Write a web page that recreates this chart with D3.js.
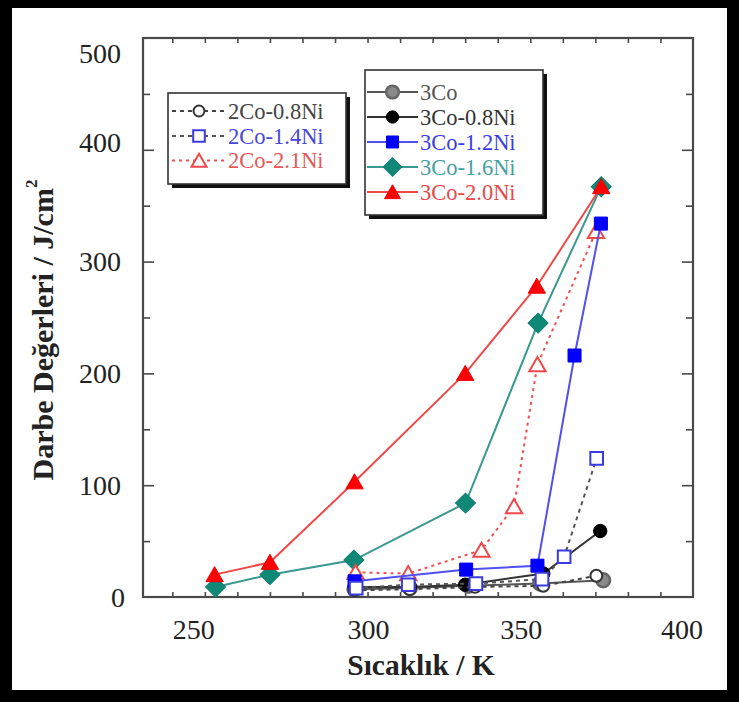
<!DOCTYPE html>
<html><head><meta charset="utf-8">
<script src="https://cdn.jsdelivr.net/npm/d3@7/dist/d3.min.js"></script>
<style>html,body{margin:0;padding:0;background:#000;}svg{display:block;}</style>
</head><body>
<svg id="chart" width="739" height="702"></svg>
<script>
// ---------- data ----------
const xTickLabels = [250, 300, 350, 400];
const yTickLabels = [0, 100, 200, 300, 400, 500];

const T_2Co08 = [300, 317, 337, 358, 374.3];
const E_2Co08 = [6, 7, 9, 10, 19];
const T_2Co14 = [300.5, 316.5, 337.3, 357.6, 364.4, 374.4];
const E_2Co14 = [8, 11, 12, 16, 36, 124];
const T_2Co21 = [300.3, 316.5, 339, 349, 356.2, 374.2];
const E_2Co21 = [22, 21, 42, 81, 208, 327];
const T_3Co   = [300, 317, 335, 357, 376.4];
const E_3Co   = [7, 8, 10, 12, 15];
const T_3Co08 = [300, 317, 334, 358, 375.5];
const E_3Co08 = [9, 9, 11, 21, 59];
const T_3Co12 = [300, 334.3, 356.2, 367.6, 375.7];
const E_3Co12 = [14, 24.5, 28, 216, 334];
const T_3Co16 = [257.3, 274, 299.8, 334.1, 356.4, 375.8];
const E_3Co16 = [9, 20, 33, 84, 245, 367];
const T_3Co20 = [257, 274, 300, 334, 356, 375.8];
const E_3Co20 = [20, 31, 103, 200, 278, 367];

const legend2Co = ["2Co-0.8Ni", "2Co-1.4Ni", "2Co-2.1Ni"];
const legend3Co = ["3Co", "3Co-0.8Ni", "3Co-1.2Ni", "3Co-1.6Ni", "3Co-2.0Ni"];

// ---------- styles ----------
const styles = {
  "2Co-0.8Ni": {line:"#444", dash:"4,4", shape:"circle", size:110, fill:"#fff", stroke:"#333", sw:2, text:"#444"},
  "2Co-1.4Ni": {line:"#555", dash:"4,4", shape:"square", size:160, fill:"#fff", stroke:"#3a3ae0", sw:2, text:"#4646dc"},
  "2Co-2.1Ni": {line:"#f05050", dash:"3,4", shape:"triangle", size:115, fill:"#fff", stroke:"#f04848", sw:2, text:"#e85858"},
  "3Co":       {line:"#555", dash:null, shape:"circle", size:150, fill:"#8a8a8a", stroke:"#666", sw:2.5, text:"#555"},
  "3Co-0.8Ni": {line:"#333", dash:null, shape:"circle", size:140, fill:"#000", stroke:"#000", sw:1, text:"#333"},
  "3Co-1.2Ni": {line:"#5050f0", dash:null, shape:"square", size:170, fill:"#0000ff", stroke:"#0000ee", sw:1, text:"#3c3ce6"},
  "3Co-1.6Ni": {line:"#3a9890", dash:null, shape:"diamond", size:200, fill:"#108878", stroke:"#0e7d70", sw:1, text:"#45a0a0"},
  "3Co-2.0Ni": {line:"#f04848", dash:null, shape:"triangle", size:130, fill:"#ff0000", stroke:"#ee0000", sw:1, text:"#e84848"}
};

const series = [
  {name:"3Co",       T:T_3Co,   E:E_3Co},
  {name:"3Co-0.8Ni", T:T_3Co08, E:E_3Co08},
  {name:"2Co-0.8Ni", T:T_2Co08, E:E_2Co08},
  {name:"3Co-1.6Ni", T:T_3Co16, E:E_3Co16},
  {name:"2Co-2.1Ni", T:T_2Co21, E:E_2Co21},
  {name:"3Co-1.2Ni", T:T_3Co12, E:E_3Co12},
  {name:"2Co-1.4Ni", T:T_2Co14, E:E_2Co14},
  {name:"3Co-2.0Ni", T:T_3Co20, E:E_3Co20}
];

// ---------- layout ----------
const svg = d3.select("#chart");
const W = 739, H = 702;
const plot = {left:143, right:693, top:38, bottom:597};
const serif = "'Liberation Serif','Times New Roman',serif";

// outer frame
svg.append("rect").attr("x",0).attr("y",0).attr("width",W).attr("height",H).attr("fill","#000");
svg.append("rect").attr("x",12).attr("y",8).attr("width",715).attr("height",682).attr("fill","#fff");

const x = d3.scaleLinear().domain([235, 404]).range([plot.left, plot.right]);
const y = d3.scaleLinear().domain([0, 500]).range([plot.bottom, plot.top]);

// minor ticks
const xMinor = d3.range(244, 400, 10);
const yMinor = d3.range(50, 500, 100);
const yMajor = d3.range(100, 500, 100);

const axisColor = "#4a4a4a";
const gB = svg.append("g").attr("transform",`translate(0,${plot.bottom})`)
  .call(d3.axisBottom(x).tickValues(xMinor).tickSize(-5).tickFormat(""));
const gT = svg.append("g").attr("transform",`translate(0,${plot.top})`)
  .call(d3.axisTop(x).tickValues(xMinor).tickSize(-5).tickFormat(""));
const gL1 = svg.append("g").attr("transform",`translate(${plot.left},0)`)
  .call(d3.axisLeft(y).tickValues(yMajor).tickSize(-11).tickFormat(""));
const gL2 = svg.append("g").attr("transform",`translate(${plot.left},0)`)
  .call(d3.axisLeft(y).tickValues(yMinor).tickSize(-7).tickFormat(""));
const gR1 = svg.append("g").attr("transform",`translate(${plot.right},0)`)
  .call(d3.axisRight(y).tickValues(yMajor).tickSize(-11).tickFormat(""));
const gR2 = svg.append("g").attr("transform",`translate(${plot.right},0)`)
  .call(d3.axisRight(y).tickValues(yMinor).tickSize(-7).tickFormat(""));
[gB,gT,gL1,gL2,gR1,gR2].forEach(g=>{
  g.select(".domain").remove();
  g.selectAll(".tick line").attr("stroke",axisColor).attr("stroke-width",1.6);
});

// frame
svg.append("rect").attr("x",plot.left).attr("y",plot.top)
  .attr("width",plot.right-plot.left).attr("height",plot.bottom-plot.top)
  .attr("fill","none").attr("stroke",axisColor).attr("stroke-width",2.2);

// tick labels (positions nudged as in the original figure)
const xLabelNudge = {250:2, 300:14, 350:4, 400:2};
svg.append("g").selectAll("text").data(xTickLabels).join("text")
  .attr("x",d=>x(d)+(xLabelNudge[d]||0)).attr("y",639)
  .attr("text-anchor","middle").attr("font-family",serif).attr("font-size",28).attr("fill","#222")
  .text(d=>d);
const yLabelNudge = {400:-7, 500:15};
svg.append("g").selectAll("text").data(yTickLabels).join("text")
  .attr("x",d=>d===0?125:121).attr("y",d=>y(d)+(yLabelNudge[d]||0))
  .attr("dominant-baseline","central")
  .attr("text-anchor","end").attr("font-family",serif).attr("font-size",28).attr("fill","#222")
  .text(d=>d);

// axis titles
svg.append("text").attr("x",421).attr("y",675).attr("text-anchor","middle")
  .attr("font-family",serif).attr("font-weight","bold").attr("font-size",29.5).attr("fill","#222")
  .text("Sıcaklık / K");
const yt = svg.append("text").attr("transform","translate(42,330) rotate(-90)")
  .attr("text-anchor","middle").attr("dominant-baseline","central")
  .attr("font-family",serif).attr("font-weight","bold").attr("font-size",30).attr("fill","#222");
yt.append("tspan").text("Darbe Değerleri / J/cm");
yt.append("tspan").attr("dy",-11).attr("font-size",17).text("2");

// symbols
function symPath(shape, size){
  const t = shape==="circle"?d3.symbolCircle: shape==="triangle"?d3.symbolTriangle: d3.symbolSquare;
  return d3.symbol().type(t).size(size)();
}
function drawMarker(g, name, cx, cy, scale){
  const s = styles[name];
  const rot = s.shape==="diamond" ? " rotate(45)" : "";
  const dy = s.shape==="triangle" ? 2 : 0;
  g.append("path").attr("d",symPath(s.shape, s.size*(scale||1)))
    .attr("transform",`translate(${cx},${cy+dy})${rot}`)
    .attr("fill",s.fill).attr("stroke",s.stroke).attr("stroke-width",s.sw);
}

// series
const line = d3.line().x(d=>x(d[0])).y(d=>y(d[1]));
const gS = svg.append("g");
series.forEach(se=>{
  const s = styles[se.name];
  const pts = se.T.map((t,i)=>[t, se.E[i]]);
  const g = gS.append("g");
  g.append("path").attr("d",line(pts)).attr("fill","none")
    .attr("stroke",s.line).attr("stroke-width",2)
    .attr("stroke-dasharray",s.dash);
  pts.forEach(p=>drawMarker(g, se.name, x(p[0]), y(p[1])));
});

// legends
function legend(names, bx, by, bw, bh, rowYs, lineX0, lineX1, textX){
  const g = svg.append("g");
  g.append("rect").attr("x",bx+4).attr("y",by+4).attr("width",bw).attr("height",bh).attr("fill","#111");
  g.append("rect").attr("x",bx).attr("y",by).attr("width",bw).attr("height",bh)
    .attr("fill","#fff").attr("stroke","#333").attr("stroke-width",1.6);
  names.forEach((n,i)=>{
    const s = styles[n];
    const ry = rowYs[i];
    g.append("line").attr("x1",lineX0).attr("x2",lineX1).attr("y1",ry).attr("y2",ry)
      .attr("stroke",s.line).attr("stroke-width",2).attr("stroke-dasharray",s.dash);
    drawMarker(g, n, (lineX0+lineX1)/2, ry, 0.85);
    g.append("text").attr("x",textX).attr("y",ry).attr("dominant-baseline","central")
      .attr("font-family",serif).attr("font-size",22.5).attr("fill",s.text).text(n);
  });
}
legend(legend2Co, 168, 93, 178, 91, [111, 136, 160.5], 172, 226, 228);
legend(legend3Co, 365, 70, 178, 145, [92, 117, 142, 167, 192], 367, 418, 420);
</script>
</body></html>
